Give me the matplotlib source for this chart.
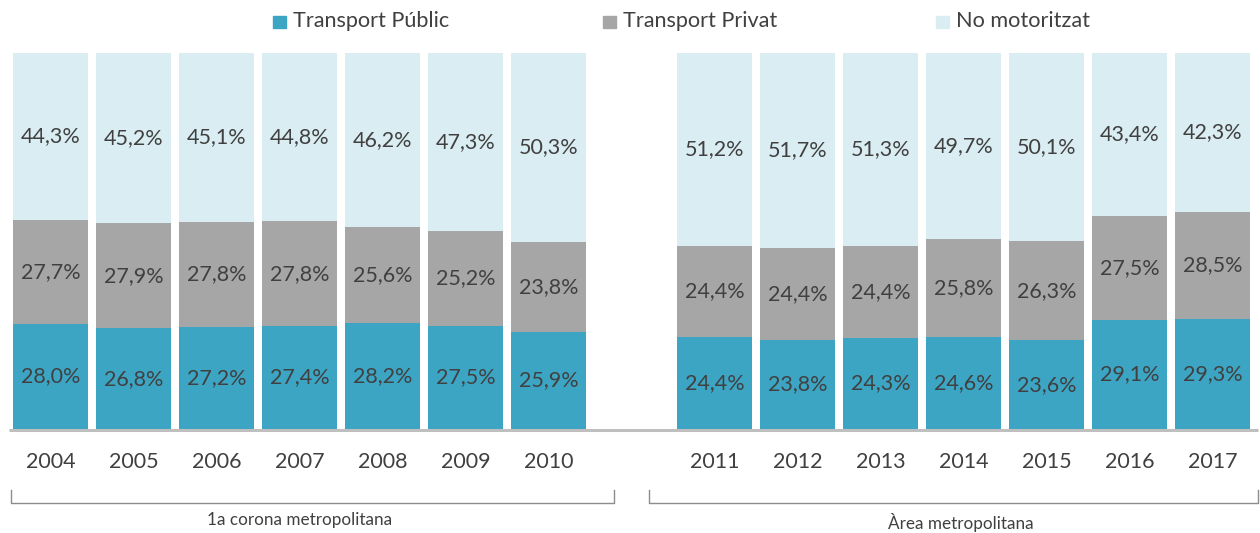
import matplotlib
matplotlib.use("Agg")
import matplotlib.pyplot as plt
from matplotlib.patches import Rectangle
from matplotlib.lines import Line2D

years = ["2004", "2005", "2006", "2007", "2008", "2009", "2010",
         "2011", "2012", "2013", "2014", "2015", "2016", "2017"]
public = [28.0, 26.8, 27.2, 27.4, 28.2, 27.5, 25.9,
          24.4, 23.8, 24.3, 24.6, 23.6, 29.1, 29.3]
private = [27.7, 27.9, 27.8, 27.8, 25.6, 25.2, 23.8,
           24.4, 24.4, 24.4, 25.8, 26.3, 27.5, 28.5]
nomotor = [44.3, 45.2, 45.1, 44.8, 46.2, 47.3, 50.3,
           51.2, 51.7, 51.3, 49.7, 50.1, 43.4, 42.3]
series_names = ["Transport Públic", "Transport Privat", "No motoritzat"]
group_names = ["1a corona metropolitana", "Àrea metropolitana"]

colors = ["#3DA5C4", "#A6A6A6", "#DAEDF3"]
txt = "#404040"
FONT = "Lato"
plt.rcParams['font.family'] = [FONT, 'DejaVu Sans']

W, H = 1260, 533
fig = plt.figure(figsize=(W / 100, H / 100), dpi=100)

def fx(px):
    return px / W

def fy(py):
    return 1 - py / H

ax = fig.add_axes([0, fy(429), 1, (429 - 53) / H])
positions = list(range(7)) + list(range(8, 15))
step = 83.0
x0 = -50.5 / step
ax.set_xlim(x0, x0 + W / step)
ax.set_ylim(0, 100)
width = 75 / step

bottom = [0] * len(years)
for vals, c in zip([public, private, nomotor], colors):
    ax.bar(positions, vals, width=width, bottom=bottom, color=c, linewidth=0)
    for p, v, b in zip(positions, vals, bottom):
        ax.text(p, b + v / 2, f"{v:.1f}%".replace(".", ","), ha="center",
                va="center", fontsize=15.5, color=txt)
    bottom = [b + v for b, v in zip(bottom, vals)]

ax.axis("off")

# axis baseline
fig.add_artist(Line2D([fx(9), fx(1258)], [fy(430), fy(430)], color="#BFBFBF",
                      linewidth=2.2, solid_capstyle="butt"))

# year labels
for p, y in zip(positions, years):
    ax.text(p, -(462 - 429) / 376, y, transform=ax.get_xaxis_transform(),
            ha="center", va="center", fontsize=15.5, color=txt)

# brackets
for (xa, xb) in [(11, 614), (649, 1258)]:
    fig.add_artist(Line2D([fx(xa), fx(xa), fx(xb), fx(xb)],
                          [fy(490), fy(503), fy(503), fy(490)],
                          color="#8C8C8C", linewidth=1.0))
fig.text(fx(300), fy(520), group_names[0], ha="center", va="center",
         fontsize=12.3, color=txt)
fig.text(fx(961), fy(523), group_names[1], ha="center", va="center",
         fontsize=12.3, color=txt)

# legend
leg_x = [273, 603, 936]
for lx, name, c in zip(leg_x, series_names, colors):
    fig.add_artist(Rectangle((fx(lx), fy(28)), fx(13), 12 / H, color=c,
                             transform=fig.transFigure))
    fig.text(fx(lx + 20), fy(21), name, ha="left", va="center",
             fontsize=15.6, color=txt)

fig.savefig("out.png", dpi=100)
